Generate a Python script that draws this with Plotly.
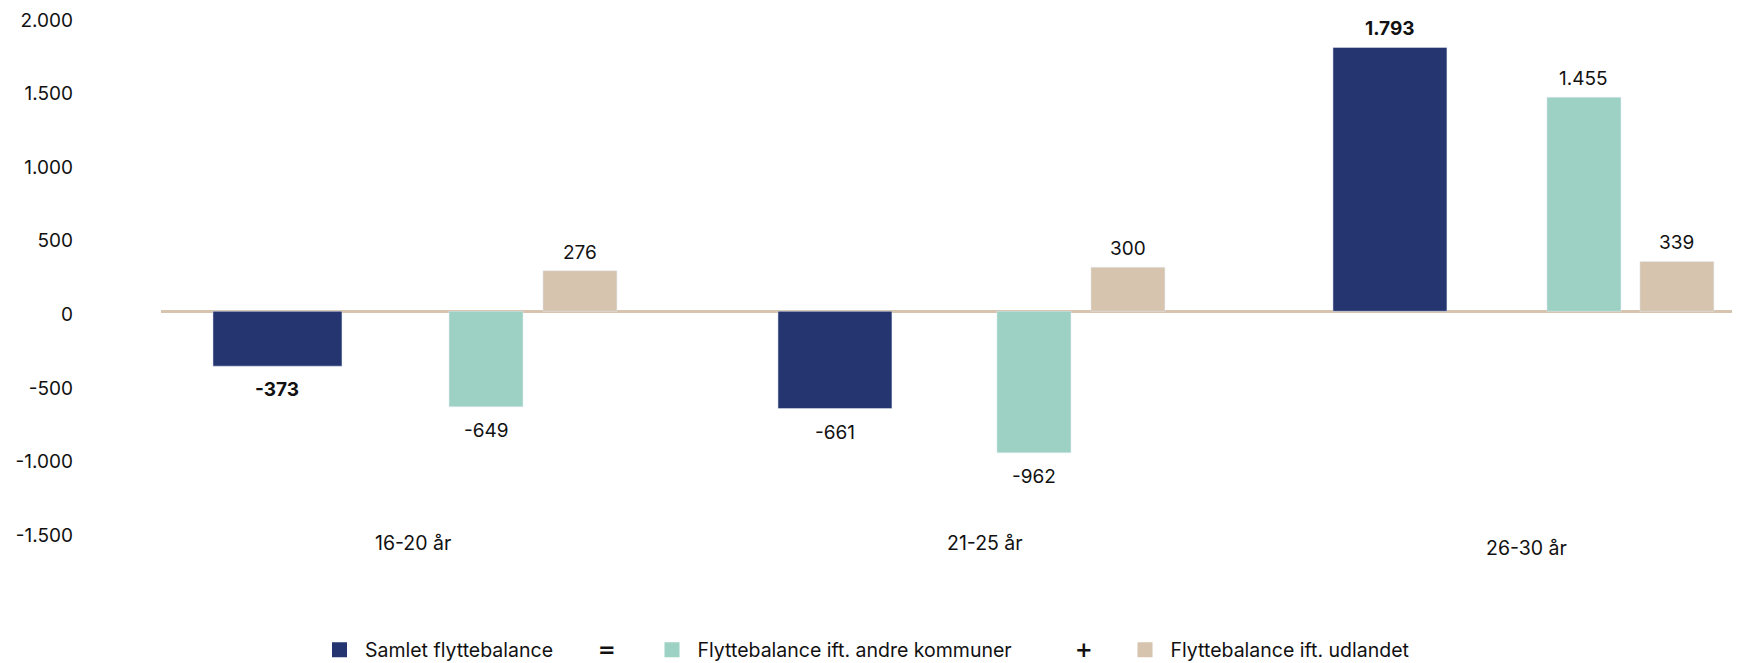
import plotly.graph_objects as go

categories = ["16-20 år", "21-25 år", "26-30 år"]
samlet = [-373, -661, 1793]
kommuner = [-649, -962, 1455]
udlandet = [276, 300, 339]
y_ticks = [-1500, -1000, -500, 0, 500, 1000, 1500, 2000]
y_tick_labels = ["-1.500", "-1.000", "-500", "0", "500", "1.000", "1.500", "2.000"]
series_names = ["Samlet flyttebalance", "Flyttebalance ift. andre kommuner", "Flyttebalance ift. udlandet"]
bold_samlet = [True, False, True]

NAVY = "#253570"
TEAL = "#9cd1c3"
BEIGE = "#d6c4ae"
FONT = "Inter"

# layout geometry (figure pixels; the page body adds an 8px margin)
W, H = 1732, 655
ML, MR, MT, MB = 153, 0, 9, 131
X_RANGE = [-0.464, 2.376]
PLOT_W = W - ML - MR
PX_PER_CAT = PLOT_W / (X_RANGE[1] - X_RANGE[0])
PLOT_H = H - MT - MB

# bar placement within each category (category units)
navy_w = [0.232, 0.205, 0.205]
navy_off = [-0.3705, -0.3543, -0.3561]
side_w = 0.1331
teal_off = [0.054, 0.0396, 0.0288]
beige_off = [0.223, 0.2086, 0.196]
# category label nudges (pixels)
cat_label_dx = [-6, 10, -4]
cat_label_dy = [-11, -11, -16]


def fmt(v):
    s = f"{abs(v):,}".replace(",", ".")
    return ("-" if v < 0 else "") + s


fig = go.Figure()
common = dict(cliponaxis=False, showlegend=False, hoverinfo="skip")
fig.add_trace(go.Bar(x=categories, y=samlet, marker_color=NAVY,
                     width=navy_w, offset=navy_off, **common))
fig.add_trace(go.Bar(x=categories, y=kommuner, marker_color=TEAL,
                     width=side_w, offset=teal_off, **common))
fig.add_trace(go.Bar(x=categories, y=udlandet, marker_color=BEIGE,
                     width=side_w, offset=beige_off, **common))

# value labels, anchored to the bar ends through the axes
series = [
    (samlet, navy_off, navy_w, bold_samlet),
    (kommuner, teal_off, [side_w] * 3, [False] * 3),
    (udlandet, beige_off, [side_w] * 3, [False] * 3),
]
for vals, offs, ws, bolds in series:
    for cat, v, o, w, b in zip(categories, vals, offs, ws, bolds):
        t = fmt(v)
        if b:
            t = "<b>" + t + "</b>"
        fig.add_annotation(
            x=cat, y=v, text=t, showarrow=False,
            xshift=(o + w / 2) * PX_PER_CAT,
            yanchor="bottom" if v > 0 else "top",
            yshift=5 if v > 0 else -10,
            font=dict(family=FONT, size=19, color="#111111"),
        )

# category labels
for cat, dx, dy in zip(categories, cat_label_dx, cat_label_dy):
    fig.add_annotation(x=cat, xref="x", y=0, yref="paper", yanchor="middle",
                       xshift=dx, yshift=dy, text=cat, showarrow=False,
                       font=dict(family=FONT, size=19.5, color="#111111"))

# legend: three separate legends with '=' and '+' between them
nb = "\u00a0"
legend_ids = ["legend", "legend2", "legend3"]
legend_x_px = [311.5, 644, 1117]
legend_y = -(642 - (H - MB)) / PLOT_H
for name, col, lid in zip(series_names, [NAVY, TEAL, BEIGE], legend_ids):
    fig.add_trace(go.Scatter(x=[None], y=[None], mode="markers", name=nb + name,
                             legend=lid,
                             marker=dict(symbol="square", size=15, color=col)))

for sym, px in [("=", 599), ("+", 1076)]:
    fig.add_annotation(x=(px - ML) / PLOT_W, xref="paper", y=legend_y, yref="paper",
                       text="<b>" + sym + "</b>", showarrow=False, xanchor="center",
                       yanchor="middle", borderpad=0,
                       font=dict(family="DejaVu Sans", size=21, color="#111111"))

legends = {}
for lid, px in zip(legend_ids, legend_x_px):
    legends[lid] = dict(orientation="h", x=(px - ML) / PLOT_W, xanchor="left",
                        y=legend_y, yanchor="middle", font=dict(size=19.5),
                        itemclick=False, bgcolor="rgba(0,0,0,0)")

fig.update_layout(
    width=W, height=H,
    margin=dict(l=ML, r=MR, t=MT, b=MB, autoexpand=False),
    paper_bgcolor="white", plot_bgcolor="white",
    barmode="overlay",
    font=dict(family=FONT, size=19, color="#111111"),
    xaxis=dict(type="category", range=X_RANGE, showgrid=False, showline=False,
               zeroline=False, ticks="", showticklabels=False, automargin=False),
    yaxis=dict(range=[-1500, 2000], tickvals=y_ticks, ticktext=y_tick_labels,
               showgrid=False, zeroline=True, zerolinecolor=BEIGE, zerolinewidth=3,
               showline=False, ticks="", ticklabelstandoff=87, layer="above traces",
               ticklabeloverflow="allow", ticklabelshift=3,
               tickfont=dict(size=19), automargin=False),
    **legends,
)

fig.write_html("out.html")
